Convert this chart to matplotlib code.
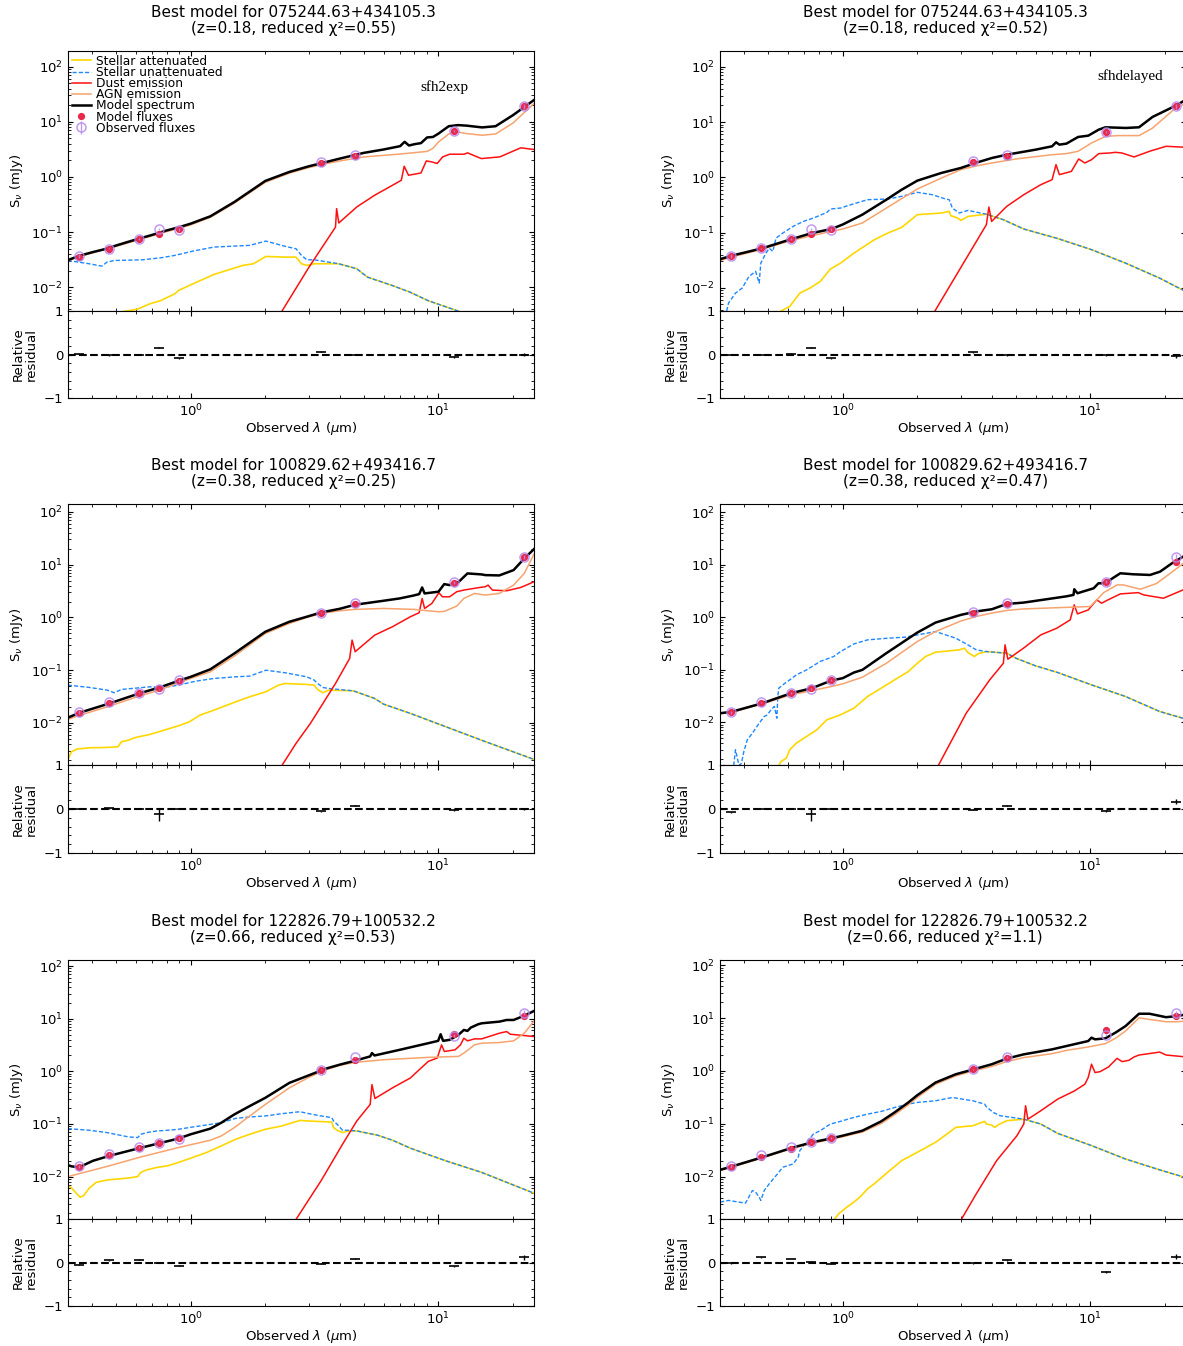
import matplotlib
matplotlib.use("Agg")
import matplotlib.pyplot as plt
from matplotlib.ticker import AutoMinorLocator, FixedLocator

# filter effective wavelengths (um): SDSS u g r i z, WISE W1-W4
BAND_WL = [0.3551, 0.4686, 0.6166, 0.7480, 0.8932, 3.353, 4.603, 11.56, 22.09]
BAND_ERR = [0.08, 0.03, 0.03, 0.03, 0.06, 0.03, 0.03, 0.05, 0.10]

TITLES = [
    "Best model for 075244.63+434105.3\n(z=0.18, reduced χ²=0.55)",
    "Best model for 075244.63+434105.3\n(z=0.18, reduced χ²=0.52)",
    "Best model for 100829.62+493416.7\n(z=0.38, reduced χ²=0.25)",
    "Best model for 100829.62+493416.7\n(z=0.38, reduced χ²=0.47)",
    "Best model for 122826.79+100532.2\n(z=0.66, reduced χ²=0.53)",
    "Best model for 122826.79+100532.2\n(z=0.66, reduced χ²=1.1)",
]
SFH_LABELS = ["sfh2exp", "sfhdelayed"]

# ---------------- panel 1 ----------------
P1_ATT = [(0.52, 0.0033), (0.533, 0.0036), (0.61, 0.0040), (0.684, 0.0050), (0.756, 0.0057), (0.863, 0.0076),
          (0.892, 0.0087), (1.02, 0.0115), (1.24, 0.017), (1.62, 0.0248), (1.79, 0.0266), (2.01, 0.0361),
          (2.41, 0.0351), (2.66, 0.0351), (2.80, 0.0266), (2.94, 0.0248), (3.15, 0.0266), (3.96, 0.0266),
          (4.68, 0.0216), (5.17, 0.0152), (6.52, 0.0107), (7.69, 0.0081), (9.08, 0.0057), (12.2, 0.0036), (14, 0.0027)]
P1_UNATT = [(0.319, 0.0305), (0.389, 0.0266), (0.438, 0.0241), (0.459, 0.0285), (0.491, 0.0305), (0.64, 0.0314),
            (0.756, 0.0341), (0.863, 0.0377), (1.02, 0.0451), (1.24, 0.0534), (1.73, 0.0573), (2.01, 0.0686),
            (2.41, 0.0549), (2.66, 0.0498), (2.80, 0.0377), (2.94, 0.0314), (3.15, 0.0314), (3.96, 0.0266),
            (4.68, 0.0216), (5.17, 0.0152), (6.52, 0.0107), (7.69, 0.0081), (9.08, 0.0057), (12.2, 0.0036), (14, 0.0027)]
P1_DUST = [(2.3, 0.0033), (3.0, 0.023), (3.84, 0.123), (3.88, 0.266), (3.96, 0.146), (4.68, 0.285), (5.52, 0.464),
           (6.52, 0.705), (7.08, 0.87), (7.27, 1.56), (7.57, 1.07), (8.5, 1.18), (8.93, 1.95), (9.4, 1.87),
           (9.88, 1.75), (10.4, 2.31), (11.1, 2.58), (12.7, 2.58), (13.1, 2.73), (13.5, 2.58), (14.9, 2.15),
           (17.7, 2.31), (21.5, 3.37), (24.3, 3.14)]
P1_AGN = [(0.319, 0.030), (0.355, 0.036), (0.5, 0.055), (0.7, 0.086), (0.9, 0.118), (1.0, 0.135), (1.2, 0.185),
          (1.5, 0.335), (2.0, 0.80), (2.5, 1.17), (3.0, 1.48), (3.5, 1.73), (4.0, 1.95), (5.0, 2.3), (7.0, 2.6),
          (9.0, 2.9), (9.5, 3.3), (10, 4.3), (11, 6.0), (12, 6.5), (13, 6.1), (15, 5.7), (17, 6.0), (20, 9.5),
          (24.3, 21.5)]
P1_MODEL = [(0.319, 0.031), (0.355, 0.037), (0.40, 0.043), (0.45, 0.049), (0.50, 0.057), (0.55, 0.065),
            (0.60, 0.073), (0.70, 0.089), (0.80, 0.107), (0.90, 0.123), (1.0, 0.142), (1.2, 0.193), (1.5, 0.351),
            (2.0, 0.846), (2.5, 1.23), (3.0, 1.56), (3.5, 1.85), (4.0, 2.15), (5.0, 2.73), (6.0, 3.14), (7.0, 3.61),
            (7.3, 4.33), (7.6, 3.71), (8.0, 3.92), (8.5, 4.1), (9.0, 5.2), (9.5, 5.3), (10, 6.1), (11, 8.3),
            (12, 8.7), (13, 8.5), (15, 7.9), (17, 8.3), (20, 13.2), (24.3, 24.8)]
P1_MOD_FLUX = [0.036, 0.050, 0.074, 0.093, 0.113, 1.80, 2.44, 6.9, 19.2]
P1_OBS_FLUX = [0.037, 0.050, 0.075, 0.113, 0.110, 1.90, 2.48, 6.76, 19.2]
P1_RESID = [0.01, -0.02, 0.0, 0.16, -0.09, 0.06, 0.0, -0.06, 0.0]
P1_RESID_ERR = [0.01, 0.01, 0.01, 0.01, 0.01, 0.01, 0.01, 0.02, 0.03]

# ---------------- panel 2 ----------------
P2_ATT = [(0.55, 0.0035), (0.564, 0.0038), (0.611, 0.0046), (0.671, 0.008), (0.738, 0.0099), (0.811, 0.013),
          (0.891, 0.0218), (0.98, 0.028), (1.11, 0.0425), (1.34, 0.074), (1.52, 0.098), (1.73, 0.124),
          (2.0, 0.211), (2.5, 0.226), (2.69, 0.242), (2.73, 0.202), (2.91, 0.183), (3.0, 0.166), (3.20, 0.196),
          (3.80, 0.215), (4.45, 0.171), (5.38, 0.116), (7.37, 0.078), (10.1, 0.049), (13.85, 0.028),
          (19.0, 0.015), (24.3, 0.0085)]
P2_UNATT = [(0.34, 0.0038), (0.346, 0.0053), (0.369, 0.008), (0.393, 0.0099), (0.418, 0.016), (0.445, 0.0198),
            (0.460, 0.0122), (0.467, 0.028), (0.49, 0.0425), (0.505, 0.052), (0.522, 0.0456), (0.538, 0.0795),
            (0.573, 0.098), (0.63, 0.129), (0.693, 0.159), (0.761, 0.183), (0.864, 0.232), (0.891, 0.267),
            (0.98, 0.278), (1.11, 0.333), (1.26, 0.394), (1.52, 0.405), (1.73, 0.453), (2.0, 0.535), (2.30, 0.485),
            (2.60, 0.405), (2.69, 0.394), (2.77, 0.278), (2.95, 0.226), (3.20, 0.252), (3.80, 0.215), (4.45, 0.171),
            (5.38, 0.116), (7.37, 0.078), (10.1, 0.049), (13.85, 0.028), (19.0, 0.015), (24.3, 0.0085)]
P2_DUST = [(2.33, 0.0035), (3.80, 0.139), (3.89, 0.29), (3.99, 0.159), (4.59, 0.298), (5.38, 0.485), (6.30, 0.736),
           (7.0, 0.907), (7.26, 1.7), (7.49, 1.12), (8.37, 1.28), (8.96, 2.15), (9.49, 1.82), (10.1, 2.09),
           (10.8, 2.69), (12.0, 2.76), (12.6, 2.84), (13.4, 2.76), (15.0, 2.34), (17.3, 2.96), (20.2, 3.65),
           (24.3, 3.5)]
P2_AGN = [(0.32, 0.031), (0.355, 0.036), (0.474, 0.050), (0.62, 0.072), (0.752, 0.088), (0.90, 0.105),
          (1.0, 0.116), (1.2, 0.149), (1.5, 0.278), (2.0, 0.615), (2.5, 0.97), (3.0, 1.38), (3.5, 1.63),
          (4.0, 1.82), (5.0, 2.15), (7.0, 2.57), (8.0, 2.69), (8.91, 2.96), (10.1, 4.19), (11.5, 5.53),
          (13.0, 5.7), (15.7, 5.7), (17.8, 7.8), (22.1, 18.1), (24.3, 22.0)]
P2_MODEL = [(0.32, 0.033), (0.355, 0.038), (0.474, 0.052), (0.62, 0.076), (0.752, 0.098), (0.90, 0.116),
            (1.0, 0.140), (1.2, 0.211), (1.5, 0.394), (1.73, 0.598), (2.0, 0.871), (2.5, 1.2), (3.0, 1.48),
            (3.5, 1.87), (4.0, 2.24), (4.59, 2.57), (6.0, 3.17), (7.0, 3.65), (7.26, 4.31), (7.49, 3.91),
            (8.0, 4.08), (8.91, 5.38), (9.8, 5.69), (10.8, 7.31), (11.5, 8.06), (13.9, 7.84), (15.7, 8.06),
            (17.8, 12.4), (22.1, 19.9), (24.3, 25.5)]
P2_MOD_FLUX = [0.038, 0.052, 0.076, 0.094, 0.116, 1.87, 2.47, 6.6, 19.4]
P2_OBS_FLUX = [0.038, 0.052, 0.077, 0.116, 0.113, 1.95, 2.50, 6.7, 19.4]
P2_RESID = [0.0, -0.01, 0.02, 0.16, -0.09, 0.05, -0.02, -0.02, -0.04]
P2_RESID_ERR = [0.01, 0.01, 0.01, 0.01, 0.01, 0.01, 0.01, 0.02, 0.04]

# ---------------- panel 3 ----------------
P3_ATT = [(0.319, 0.00198), (0.330, 0.00285), (0.347, 0.0032), (0.39, 0.00339), (0.46, 0.00344), (0.508, 0.00354),
          (0.525, 0.0044), (0.561, 0.00473), (0.599, 0.00532), (0.684, 0.00607), (0.782, 0.00733),
          (0.892, 0.00885), (0.986, 0.0105), (1.09, 0.0141), (1.24, 0.0175), (1.52, 0.0252), (1.73, 0.0314),
          (2.01, 0.039), (2.26, 0.0522), (2.41, 0.0561), (2.94, 0.0537), (3.15, 0.0522), (3.25, 0.0432),
          (3.42, 0.0374), (3.59, 0.042), (4.53, 0.0407), (5.52, 0.0292), (6.0, 0.0228), (7.70, 0.0152),
          (10.7, 0.0085), (14.9, 0.00473), (24.3, 0.00204)]
P3_UNATT = [(0.319, 0.0522), (0.39, 0.0471), (0.46, 0.042), (0.491, 0.0374), (0.525, 0.0432), (0.58, 0.0451),
            (0.684, 0.0485), (0.782, 0.0471), (0.892, 0.0522), (1.05, 0.0621), (1.24, 0.0698), (1.52, 0.075),
            (1.73, 0.0773), (2.01, 0.1), (2.41, 0.0893), (2.94, 0.075), (3.15, 0.0649), (3.25, 0.0561),
            (3.42, 0.0471), (3.59, 0.0451), (4.53, 0.0407), (5.52, 0.0292), (6.0, 0.0228), (7.70, 0.0152),
            (10.7, 0.0085), (14.9, 0.00473), (24.3, 0.00204)]
P3_DUST = [(2.32, 0.0015), (2.66, 0.0041), (3.04, 0.0098), (3.84, 0.0561), (4.38, 0.167), (4.48, 0.372),
           (4.61, 0.224), (5.53, 0.463), (6.52, 0.666), (7.70, 1.03), (8.36, 1.23), (8.59, 2.29), (8.79, 1.48),
           (9.40, 1.84), (10.04, 2.93), (10.38, 2.46), (11.09, 2.46), (11.85, 3.07), (12.66, 3.3), (14.69, 3.7),
           (15.45, 3.81), (15.86, 4.1), (16.5, 3.3), (18.85, 3.2), (21.5, 3.7), (24.3, 4.74)]
P3_AGN = [(0.319, 0.0117), (0.355, 0.0139), (0.47, 0.0209), (0.619, 0.0323), (0.748, 0.042), (0.892, 0.0578),
          (1.0, 0.0698), (1.2, 0.0933), (1.5, 0.185), (2.0, 0.497), (2.5, 0.769), (3.0, 1.03), (3.5, 1.23),
          (4.0, 1.34), (4.6, 1.42), (6.0, 1.48), (7.96, 1.42), (10.0, 1.28), (10.55, 1.3), (11.85, 1.64),
          (12.66, 2.29), (13.98, 2.85), (15.45, 2.65), (17.6, 2.85), (20.1, 4.1), (22.2, 6.82), (24.3, 15.9)]
P3_MODEL = [(0.319, 0.0126), (0.355, 0.0156), (0.47, 0.0235), (0.619, 0.0363), (0.748, 0.0471), (0.892, 0.063),
            (1.0, 0.075), (1.2, 0.104), (1.5, 0.208), (2.0, 0.535), (2.5, 0.828), (3.0, 1.06), (3.35, 1.24),
            (4.0, 1.46), (4.6, 1.74), (6.0, 2.07), (6.97, 2.29), (7.96, 2.61), (8.36, 2.77), (8.59, 3.7),
            (8.79, 2.85), (10.0, 3.07), (10.55, 4.28), (11.09, 4.1), (12.04, 4.67), (13.09, 6.82), (14.94, 6.53),
            (15.45, 6.34), (17.6, 6.25), (20.1, 7.89), (22.2, 13.1), (24.3, 19.7)]
P3_MOD_FLUX = [0.0156, 0.0241, 0.0363, 0.0458, 0.063, 1.23, 1.79, 4.54, 13.7]
P3_OBS_FLUX = [0.0160, 0.0245, 0.0374, 0.0432, 0.065, 1.23, 1.90, 4.6, 14.1]
P3_RESID = [0.0, 0.02, 0.01, -0.12, 0.01, -0.05, 0.07, -0.03, 0.0]
P3_RESID_ERR = [0.01, 0.01, 0.01, 0.15, 0.01, 0.01, 0.01, 0.02, 0.03]

# ---------------- panel 4 ----------------
P4_ATT = [(0.552, 0.0015), (0.564, 0.0018), (0.592, 0.00208), (0.611, 0.003), (0.65, 0.00402), (0.715, 0.00538),
          (0.786, 0.0072), (0.864, 0.0112), (0.98, 0.0139), (1.11, 0.0186), (1.26, 0.031), (1.43, 0.0447),
          (1.62, 0.0643), (1.84, 0.0927), (2.0, 0.133), (2.16, 0.179), (2.37, 0.216), (2.95, 0.239),
          (3.10, 0.257), (3.20, 0.213), (3.40, 0.179), (3.51, 0.201), (3.80, 0.222), (4.59, 0.207), (5.0, 0.166),
          (6.0, 0.119), (7.37, 0.0887), (10.1, 0.0516), (13.85, 0.031), (19.0, 0.0161), (24.3, 0.0115)]
P4_UNATT = [(0.363, 0.0015), (0.369, 0.003), (0.378, 0.0018), (0.383, 0.0015), (0.39, 0.00167), (0.399, 0.00279),
            (0.412, 0.00465), (0.432, 0.00622), (0.46, 0.00964), (0.482, 0.0129), (0.497, 0.0139),
            (0.513, 0.0173), (0.53, 0.02), (0.542, 0.012), (0.547, 0.031), (0.552, 0.0447), (0.573, 0.0516),
            (0.611, 0.0643), (0.65, 0.08), (0.715, 0.0996), (0.811, 0.144), (0.92, 0.179), (0.98, 0.222),
            (1.11, 0.311), (1.26, 0.371), (1.52, 0.399), (1.78, 0.417), (2.0, 0.461), (2.37, 0.534), (2.86, 0.399),
            (3.20, 0.298), (3.46, 0.239), (3.80, 0.222), (4.59, 0.207), (5.0, 0.166), (6.0, 0.119),
            (7.37, 0.0887), (10.1, 0.0516), (13.85, 0.031), (19.0, 0.0161), (24.3, 0.0115)]
P4_DUST = [(2.43, 0.0015), (3.15, 0.0149), (3.92, 0.0643), (4.45, 0.133), (4.52, 0.298), (4.64, 0.159),
           (5.38, 0.26), (6.30, 0.461), (7.31, 0.618), (8.28, 0.89), (8.6, 1.72), (8.86, 1.16), (9.8, 1.38),
           (10.6, 2.14), (11.1, 1.85), (11.6, 2.07), (13.2, 2.78), (15.6, 2.94), (16.4, 2.66), (19.7, 2.3),
           (24.3, 3.5)]
P4_AGN = [(0.32, 0.0145), (0.355, 0.0154), (0.474, 0.0225), (0.62, 0.0334), (0.752, 0.0403), (0.90, 0.048),
          (1.0, 0.054), (1.2, 0.0722), (1.5, 0.133), (2.0, 0.345), (2.37, 0.534), (3.0, 0.85), (3.5, 1.05),
          (4.0, 1.2), (4.6, 1.35), (5.37, 1.44), (9.97, 1.6), (10.45, 1.99), (11.3, 2.94), (12.8, 4.12),
          (13.6, 4.12), (15.9, 3.41), (18.5, 4.4), (21.0, 6.87), (23.7, 10.6), (24.3, 11.5)]
P4_MODEL = [(0.32, 0.0149), (0.355, 0.0158), (0.474, 0.0231), (0.62, 0.0359), (0.752, 0.0447), (0.90, 0.0625),
            (1.0, 0.0692), (1.11, 0.0887), (1.2, 0.0996), (1.5, 0.207), (2.0, 0.511), (2.37, 0.792), (3.0, 1.11),
            (3.5, 1.3), (4.0, 1.42), (4.59, 1.79), (5.37, 1.9), (6.0, 2.05), (8.0, 2.5), (8.54, 2.66), (8.6, 3.41),
            (8.86, 2.86), (10.3, 3.56), (10.77, 4.43), (11.46, 4.43), (12.1, 5.28), (13.2, 6.87), (14.9, 6.57),
            (17.4, 6.38), (19.1, 7.38), (21.3, 10.6), (23.7, 14.3), (24.3, 15.5)]
P4_MOD_FLUX = [0.0154, 0.0238, 0.0359, 0.0453, 0.0625, 1.23, 1.79, 4.63, 11.5]
P4_OBS_FLUX = [0.0154, 0.0241, 0.0360, 0.0428, 0.0640, 1.24, 1.90, 4.77, 14.3]
P4_RESID = [-0.07, 0.0, 0.01, -0.12, 0.0, -0.02, 0.07, -0.04, 0.17]
P4_RESID_ERR = [0.01, 0.01, 0.01, 0.15, 0.01, 0.01, 0.01, 0.02, 0.05]

# ---------------- panel 5 ----------------
P5_ATT = [(0.319, 0.00676), (0.330, 0.00611), (0.347, 0.00471), (0.358, 0.00407), (0.370, 0.00438),
          (0.39, 0.00611), (0.416, 0.00782), (0.46, 0.00865), (0.561, 0.00944), (0.61, 0.01), (0.63, 0.0121),
          (0.662, 0.0134), (0.731, 0.015), (0.808, 0.0161), (0.892, 0.0186), (1.02, 0.0232), (1.16, 0.0288),
          (1.33, 0.0385), (1.52, 0.0514), (1.73, 0.0638), (2.0, 0.0793), (2.33, 0.0917), (2.76, 0.117),
          (3.0, 0.114), (3.36, 0.111), (3.71, 0.109), (3.77, 0.0853), (3.90, 0.076), (4.10, 0.0686),
          (4.31, 0.0738), (4.68, 0.0738), (5.69, 0.0611), (6.52, 0.0492), (7.70, 0.0347), (10.7, 0.02),
          (14.9, 0.0121), (24.3, 0.00485)]
P5_UNATT = [(0.319, 0.0816), (0.39, 0.076), (0.46, 0.0686), (0.561, 0.0568), (0.61, 0.0552), (0.63, 0.0638),
            (0.662, 0.0686), (0.731, 0.0738), (0.808, 0.076), (0.892, 0.0793), (1.02, 0.0878), (1.16, 0.0958),
            (1.33, 0.106), (1.52, 0.128), (1.73, 0.136), (2.0, 0.142), (2.33, 0.157), (2.76, 0.171), (3.0, 0.157),
            (3.36, 0.142), (3.71, 0.132), (3.77, 0.114), (3.90, 0.0986), (4.10, 0.076), (4.31, 0.076),
            (4.68, 0.0738), (5.69, 0.0611), (6.52, 0.0492), (7.70, 0.0347), (10.7, 0.02), (14.9, 0.0121),
            (24.3, 0.00485)]
P5_DUST = [(2.65, 0.0015), (3.36, 0.0084), (4.10, 0.0413), (4.68, 0.114), (5.30, 0.235), (5.39, 0.56),
           (5.54, 0.305), (6.52, 0.485), (7.70, 0.748), (9.09, 1.54), (9.89, 1.79), (10.29, 3.18), (10.56, 2.38),
           (11.67, 2.56), (12.27, 3.18), (12.66, 4.26), (13.09, 3.79), (13.98, 4.13), (14.94, 4.13),
           (17.6, 5.29), (18.85, 5.69), (19.5, 5.06), (22.2, 4.78), (24.3, 4.57)]
P5_AGN = [(0.319, 0.01), (0.47, 0.0161), (0.619, 0.0232), (0.892, 0.0357), (1.2, 0.0492), (1.33, 0.0594),
          (1.5, 0.0853), (1.73, 0.142), (2.0, 0.235), (2.5, 0.485), (3.0, 0.771), (3.5, 1.07), (4.0, 1.3),
          (4.6, 1.48), (6.0, 1.66), (9.09, 1.84), (12.04, 1.92), (12.66, 2.22), (13.98, 3.18), (14.94, 3.42),
          (17.6, 3.52), (20.1, 3.79), (22.2, 5.29), (24.3, 9.03)]
P5_MODEL = [(0.319, 0.0166), (0.330, 0.0157), (0.355, 0.015), (0.377, 0.0173), (0.403, 0.02), (0.47, 0.0249),
            (0.619, 0.0347), (0.748, 0.0432), (0.892, 0.0529), (1.0, 0.0638), (1.2, 0.0816), (1.33, 0.106),
            (1.5, 0.152), (1.73, 0.219), (2.0, 0.314), (2.5, 0.603), (3.0, 0.841), (3.5, 1.12), (4.0, 1.34),
            (4.6, 1.59), (5.30, 1.92), (5.39, 2.22), (5.52, 2.0), (6.97, 2.56), (9.09, 3.42), (9.97, 3.79),
            (10.2, 5.06), (10.44, 3.79), (11.09, 3.96), (12.04, 4.92), (12.66, 6.11), (13.09, 5.85), (13.5, 6.76),
            (14.45, 7.82), (14.94, 8.17), (17.6, 8.78), (18.85, 9.44), (20.1, 9.44), (22.2, 11.4), (24.3, 14.0)]
P5_MOD_FLUX = [0.0154, 0.0256, 0.0357, 0.0445, 0.0537, 1.07, 1.66, 5.06, 11.4]
P5_OBS_FLUX = [0.0157, 0.0268, 0.0368, 0.0445, 0.0529, 1.07, 1.84, 4.78, 13.0]
P5_RESID = [-0.05, 0.05, 0.06, 0.0, -0.07, -0.03, 0.09, -0.09, 0.12]
P5_RESID_ERR = [0.01, 0.01, 0.01, 0.01, 0.01, 0.01, 0.01, 0.02, 0.06]

# ---------------- panel 6 ----------------
P6_ATT = [(0.90, 0.0013), (0.92, 0.0015), (0.964, 0.00198), (1.04, 0.00264), (1.11, 0.00328), (1.18, 0.0042),
          (1.26, 0.00585), (1.34, 0.00727), (1.52, 0.0121), (1.73, 0.02), (2.0, 0.0288), (2.37, 0.0445),
          (2.69, 0.0686), (2.86, 0.0853), (3.35, 0.0917), (3.74, 0.111), (3.80, 0.0986), (3.99, 0.0944),
          (4.11, 0.0853), (4.25, 0.0958), (4.59, 0.114), (5.38, 0.122), (6.30, 0.0986), (7.37, 0.0657),
          (10.1, 0.0385), (13.85, 0.0215), (19.0, 0.0134), (24.3, 0.0095)]
P6_UNATT = [(0.32, 0.00328), (0.346, 0.00353), (0.38, 0.00328), (0.405, 0.00314), (0.432, 0.00544),
            (0.445, 0.00506), (0.46, 0.00407), (0.467, 0.00353), (0.482, 0.00544), (0.505, 0.00727),
            (0.538, 0.0104), (0.573, 0.015), (0.63, 0.0173), (0.661, 0.0232), (0.671, 0.031), (0.715, 0.0445),
            (0.761, 0.0638), (0.811, 0.0738), (0.891, 0.0986), (0.98, 0.111), (1.11, 0.132), (1.26, 0.152),
            (1.43, 0.171), (1.62, 0.203), (1.84, 0.235), (2.0, 0.253), (2.37, 0.272), (2.77, 0.314),
            (3.35, 0.272), (3.74, 0.235), (3.80, 0.209), (4.05, 0.164), (4.31, 0.142), (4.59, 0.136),
            (5.38, 0.122), (6.30, 0.0986), (7.37, 0.0657), (10.1, 0.0385), (13.85, 0.0215), (19.0, 0.0134),
            (24.3, 0.0095)]
P6_DUST = [(3.0, 0.0015), (3.46, 0.00471), (4.18, 0.02), (5.05, 0.0594), (5.38, 0.0986), (5.47, 0.219),
           (5.59, 0.122), (6.30, 0.176), (7.37, 0.292), (8.63, 0.42), (9.49, 0.56), (9.79, 0.748), (10.1, 1.34),
           (10.43, 0.93), (10.94, 0.97), (11.83, 1.19), (12.8, 1.73), (13.42, 1.5), (14.3, 1.59), (15.0, 1.84),
           (15.7, 2.0), (18.4, 2.22), (19.0, 2.28), (20.2, 2.0), (24.3, 1.84)]
P6_AGN = [(0.32, 0.013), (0.355, 0.015), (0.474, 0.0225), (0.62, 0.0337), (0.752, 0.0426), (0.90, 0.0506),
          (1.0, 0.0568), (1.2, 0.0696), (1.43, 0.101), (1.62, 0.148), (1.84, 0.228), (2.0, 0.314), (2.37, 0.56),
          (2.86, 0.805), (3.37, 1.0), (4.0, 1.22), (4.59, 1.5), (5.38, 1.79), (7.0, 2.12), (8.0, 2.45),
          (9.79, 2.84), (11.47, 3.28), (12.6, 4.13), (13.85, 5.69), (15.7, 10.1), (17.3, 9.44), (20.2, 8.53),
          (22.1, 8.53), (24.3, 8.78)]
P6_MODEL = [(0.32, 0.0134), (0.355, 0.0154), (0.474, 0.0232), (0.62, 0.0347), (0.752, 0.0445), (0.90, 0.0529),
            (1.0, 0.0594), (1.2, 0.0738), (1.43, 0.111), (1.62, 0.164), (1.84, 0.253), (2.0, 0.347), (2.37, 0.603),
            (2.86, 0.865), (3.37, 1.07), (4.0, 1.34), (4.59, 1.71), (5.38, 2.06), (7.0, 2.56), (8.0, 2.96),
            (9.79, 3.68), (10.1, 4.26), (10.43, 3.96), (11.47, 4.13), (12.6, 5.29), (13.85, 7.06), (15.7, 12.1),
            (17.3, 12.1), (20.2, 10.4), (22.1, 10.9), (24.3, 11.7)]
P6_MOD_FLUX = [0.0154, 0.0232, 0.0333, 0.0445, 0.0537, 1.07, 1.73, 5.85, 10.9]
P6_OBS_FLUX = [0.0157, 0.0260, 0.0357, 0.0445, 0.0537, 1.07, 1.84, 4.78, 12.6]
P6_RESID = [-0.02, 0.12, 0.08, 0.02, -0.03, -0.02, 0.05, -0.22, 0.13]
P6_RESID_ERR = [0.01, 0.01, 0.01, 0.01, 0.01, 0.01, 0.01, 0.02, 0.06]

panels = [
    (P1_ATT, P1_UNATT, P1_DUST, P1_AGN, P1_MODEL, P1_MOD_FLUX, P1_OBS_FLUX, P1_RESID, P1_RESID_ERR),
    (P2_ATT, P2_UNATT, P2_DUST, P2_AGN, P2_MODEL, P2_MOD_FLUX, P2_OBS_FLUX, P2_RESID, P2_RESID_ERR),
    (P3_ATT, P3_UNATT, P3_DUST, P3_AGN, P3_MODEL, P3_MOD_FLUX, P3_OBS_FLUX, P3_RESID, P3_RESID_ERR),
    (P4_ATT, P4_UNATT, P4_DUST, P4_AGN, P4_MODEL, P4_MOD_FLUX, P4_OBS_FLUX, P4_RESID, P4_RESID_ERR),
    (P5_ATT, P5_UNATT, P5_DUST, P5_AGN, P5_MODEL, P5_MOD_FLUX, P5_OBS_FLUX, P5_RESID, P5_RESID_ERR),
    (P6_ATT, P6_UNATT, P6_DUST, P6_AGN, P6_MODEL, P6_MOD_FLUX, P6_OBS_FLUX, P6_RESID, P6_RESID_ERR),
]


def split(points):
    return [p[0] for p in points], [p[1] for p in points]


W, H = 1183, 1346
fig = plt.figure(figsize=(W / 100, H / 100), dpi=100)

col_left = [68, 720]
ax_w = 466
rows = [(51, 311, 398), (504, 765, 853), (960, 1219, 1306)]

xmin = 0.9 * min(BAND_WL)
xmax = 1.1 * max(BAND_WL)

for i, data in enumerate(panels):
    att, unatt, dust, agn, model, mod_flux, obs_flux, resid, resid_err = data
    r, c = divmod(i, 2)
    top, mid, bot = rows[r]
    x0 = col_left[c]
    ax = fig.add_axes([x0 / W, 1 - mid / H, ax_w / W, (mid - top) / H])
    axr = fig.add_axes([x0 / W, 1 - bot / H, ax_w / W, (bot - mid) / H], sharex=ax)

    ax.plot(*split(att), color="#FFD700", lw=1.2, label="Stellar attenuated")
    ax.plot(*split(unatt), color="#1E88FF", lw=1.0, ls=(0, (3, 1.5)), label="Stellar unattenuated")
    ax.plot(*split(dust), color="#FF1010", lw=1.1, label="Dust emission")
    ax.plot(*split(agn), color="#F7A36E", lw=1.1, label="AGN emission")
    ax.plot(*split(model), color="k", lw=1.8, label="Model spectrum")
    ax.plot(BAND_WL, mod_flux, ls="", marker="o", ms=4.2, color="#E8294C", label="Model fluxes", zorder=5)
    ax.errorbar(BAND_WL, obs_flux, yerr=[f * e for f, e in zip(obs_flux, BAND_ERR)], ls="", marker="o",
                ms=6.5, mfc="none", mec="#B58AEF", mew=1.1, ecolor="#B58AEF", elinewidth=1.0, capsize=0,
                alpha=0.85, label="Observed fluxes", zorder=6)

    ax.set_xscale("log")
    ax.set_yscale("log")
    ax.set_xlim(xmin, xmax)
    ax.set_ylim(min(obs_flux) / 10, max(obs_flux) * 10)
    ax.set_ylabel(r"S$_\nu$ (mJy)", fontsize=9.5)
    ax.yaxis.set_label_coords(-0.092, 0.5)
    ax.tick_params(which="both", direction="in", top=True, right=True, labelsize=9.5, labelbottom=False)
    ax.set_title(TITLES[i], fontsize=11, pad=13, x=0.483, linespacing=1.1)

    if r == 0:
        ax.text(0.807 if c == 0 else 0.88, 0.862 if c == 0 else 0.905, SFH_LABELS[c], transform=ax.transAxes,
                ha="center", va="center", family="Liberation Serif", fontsize=11)
    if i == 0:
        ax.legend(loc="upper left", frameon=False, fontsize=8.8, labelspacing=-0.15, handlelength=1.6,
                  handletextpad=0.4, borderpad=0.1, borderaxespad=0.2)

    axr.errorbar(BAND_WL, resid, yerr=resid_err, ls="", marker="_", ms=7, mew=1.2, color="k",
                 elinewidth=1.0, capsize=0)
    axr.axhline(0, color="k", ls="--", lw=1.5)
    axr.set_ylim(-1, 1)
    axr.yaxis.set_major_locator(FixedLocator([-1, 0, 1]))
    axr.yaxis.set_minor_locator(AutoMinorLocator())
    axr.tick_params(which="both", direction="in", top=True, right=True, labelsize=9.5)
    axr.set_xlim(xmin, xmax)
    axr.set_xlabel(r"Observed $\lambda$ ($\mu$m)", fontsize=9.5, labelpad=0.5)
    axr.set_ylabel("Relative\nresidual", fontsize=9.5, linespacing=1.0)
    axr.yaxis.set_label_coords(-0.064, 0.5)

fig.savefig("out.png", dpi=100)
